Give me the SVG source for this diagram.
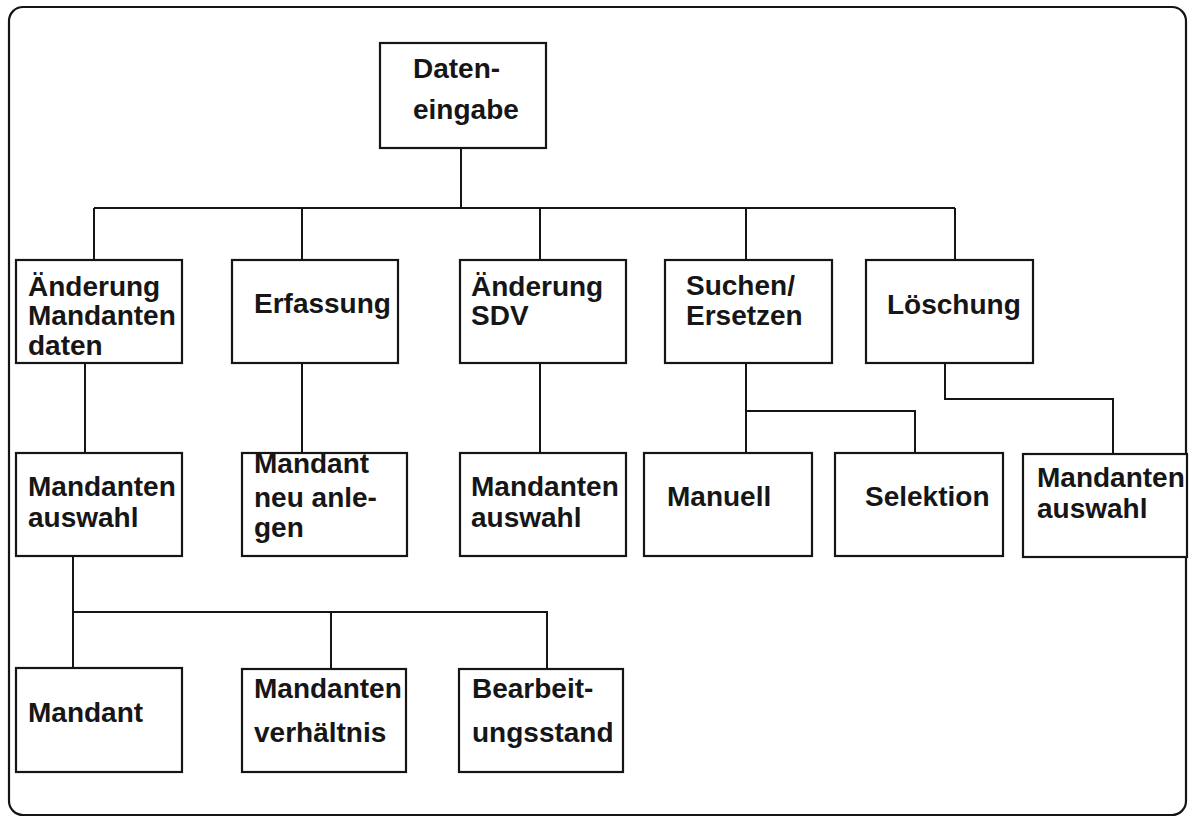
<svg xmlns="http://www.w3.org/2000/svg" width="1192" height="819" viewBox="0 0 1192 819">
  <style>
    .frame { fill: none; stroke: #151515; stroke-width: 2.2; }
    .box { fill: #ffffff; stroke: #151515; stroke-width: 2.2; }
    .link { fill: none; stroke: #151515; stroke-width: 2; }
    text { font-family: "Liberation Sans", Arial, sans-serif; font-size: 28px; font-weight: bold; fill: #161616; }
  </style>
  <rect x="0" y="0" width="1192" height="819" fill="#ffffff"/>
  <rect class="frame" x="9" y="7" width="1177" height="808" rx="14" ry="14"/>

  <!-- connectors -->
  <g id="connectors">
    <path class="link" d="M461 148 V208 M94 208 H955 M94 208 V260 M302 208 V260 M540 208 V260 M746 208 V260 M955 208 V260"/>
    <path class="link" d="M85 363 V453 M302 363 V453 M540 363 V453"/>
    <path class="link" d="M746 363 V453 M746 411 H915 V453"/>
    <path class="link" d="M945 363 V399 H1113 V453"/>
    <path class="link" d="M73 556 V668 M73 612 H547 V668 M331 612 V668"/>
  </g>

  <!-- root -->
  <g id="n-dateneingabe">
    <rect class="box" x="380" y="43" width="166" height="105"/>
    <text x="413" y="78">Daten-</text>
    <text x="413" y="119">eingabe</text>
  </g>

  <!-- level 1 -->
  <g id="n-aenderung-mandantendaten">
    <rect class="box" x="16" y="260" width="166" height="103"/>
    <text x="28" y="296">Änderung</text>
    <text x="28" y="325">Mandanten</text>
    <text x="28" y="355">daten</text>
  </g>
  <g id="n-erfassung">
    <rect class="box" x="232" y="260" width="166" height="103"/>
    <text x="254" y="313">Erfassung</text>
  </g>
  <g id="n-aenderung-sdv">
    <rect class="box" x="460" y="260" width="166" height="103"/>
    <text x="471" y="296">Änderung</text>
    <text x="471" y="325">SDV</text>
  </g>
  <g id="n-suchen-ersetzen">
    <rect class="box" x="665" y="260" width="167" height="103"/>
    <text x="686" y="295">Suchen/</text>
    <text x="686" y="325">Ersetzen</text>
  </g>
  <g id="n-loeschung">
    <rect class="box" x="866" y="260" width="167" height="103"/>
    <text x="887" y="314">Löschung</text>
  </g>

  <!-- level 2 -->
  <g id="n-mandantenauswahl-1">
    <rect class="box" x="16" y="453" width="166" height="103"/>
    <text x="28" y="496">Mandanten</text>
    <text x="28" y="527">auswahl</text>
  </g>
  <g id="n-mandant-neu-anlegen">
    <rect class="box" x="242" y="453" width="165" height="103"/>
    <text x="254" y="473">Mandant</text>
    <text x="254" y="507">neu anle-</text>
    <text x="254" y="537">gen</text>
  </g>
  <g id="n-mandantenauswahl-2">
    <rect class="box" x="460" y="453" width="166" height="103"/>
    <text x="471" y="496">Mandanten</text>
    <text x="471" y="527">auswahl</text>
  </g>
  <g id="n-manuell">
    <rect class="box" x="644" y="453" width="168" height="103"/>
    <text x="667" y="506">Manuell</text>
  </g>
  <g id="n-selektion">
    <rect class="box" x="835" y="453" width="168" height="103"/>
    <text x="865" y="506">Selektion</text>
  </g>
  <g id="n-mandantenauswahl-3">
    <rect class="box" x="1023" y="454" width="164" height="103"/>
    <text x="1037" y="487">Mandanten</text>
    <text x="1037" y="518">auswahl</text>
  </g>

  <!-- level 3 -->
  <g id="n-mandant">
    <rect class="box" x="16" y="668" width="166" height="104"/>
    <text x="28" y="722">Mandant</text>
  </g>
  <g id="n-mandantenverhaeltnis">
    <rect class="box" x="242" y="669" width="164" height="103"/>
    <text x="254" y="698">Mandanten</text>
    <text x="254" y="742">verhältnis</text>
  </g>
  <g id="n-bearbeitungsstand">
    <rect class="box" x="459" y="669" width="164" height="103"/>
    <text x="472" y="698">Bearbeit-</text>
    <text x="472" y="742">ungsstand</text>
  </g>
</svg>
